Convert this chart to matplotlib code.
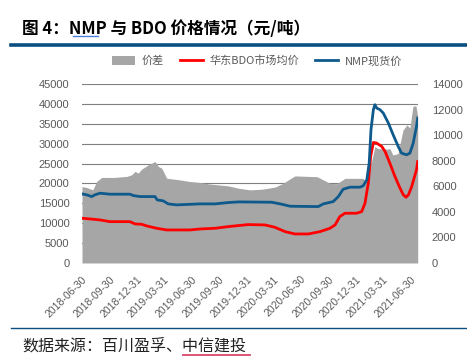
import matplotlib
matplotlib.use("Agg")
import matplotlib.pyplot as plt
import matplotlib.dates as mdates
import numpy as np
import pandas as pd
from matplotlib.lines import Line2D
from matplotlib.patches import Patch

plt.rcParams['font.family'] = ['Liberation Sans', 'Noto Sans CJK SC', 'DejaVu Sans']

# 价差 (right axis)
spread_dates = ['2018-06-30', '2018-07-16', '2018-08-05', '2018-08-18', '2018-09-04',
                '2018-10-13', '2018-11-26', '2018-12-13', '2018-12-24', '2019-01-04',
                '2019-01-15', '2019-02-07', '2019-03-01', '2019-03-12', '2019-03-23',
                '2019-04-09', '2019-05-23', '2019-06-26', '2019-07-29', '2019-08-26',
                '2019-11-01', '2019-12-04', '2020-01-12', '2020-02-20', '2020-04-04',
                '2020-05-02', '2020-05-19', '2020-06-10', '2020-08-23', '2020-10-05',
                '2020-10-28', '2020-11-24', '2021-01-23', '2021-02-06', '2021-02-22',
                '2021-03-04', '2021-03-14', '2021-04-13', '2021-04-23', '2021-05-03',
                '2021-05-20', '2021-06-06', '2021-06-19', '2021-06-29', '2021-07-09',
                '2021-07-19', '2021-07-25']
spread = [5980, 5900, 5720, 6380, 6690,
          6690, 6770, 6900, 7160, 7030,
          7340, 7680, 7940, 7550, 7420,
          6630, 6500, 6370, 6300, 6190,
          6030, 5850, 5720, 5770, 5930,
          6240, 6500, 6810, 6750, 6230,
          6200, 6620, 6620, 6300, 8060,
          9100, 8950, 8900, 8950, 8450,
          8550, 10400, 10800, 10550, 12250,
          12300, 11460]

# 华东BDO市场均价 (left axis)
bdo_dates = ['2018-06-30', '2018-08-07', '2018-08-29', '2018-10-01', '2018-12-07',
             '2018-12-24', '2019-01-15', '2019-02-01', '2019-03-06', '2019-04-09',
             '2019-06-26', '2019-07-29', '2019-09-17', '2019-11-01', '2020-01-06',
             '2020-03-02', '2020-04-04', '2020-05-08', '2020-06-10', '2020-07-25',
             '2020-09-02', '2020-10-05', '2020-10-22', '2020-11-07', '2020-11-24',
             '2021-01-02', '2021-01-19', '2021-01-30', '2021-02-10', '2021-02-18',
             '2021-02-27', '2021-03-10', '2021-03-27', '2021-04-07', '2021-04-23',
             '2021-05-10', '2021-05-27', '2021-06-07', '2021-06-16', '2021-06-24',
             '2021-07-05', '2021-07-21', '2021-07-25']
bdo = [11250, 11000, 10830, 10400, 10400,
       9820, 9740, 9320, 8730, 8310,
       8310, 8550, 8730, 9150, 9660,
       9570, 8980, 7890, 7300, 7300,
       7890, 8730, 9570, 11670, 12510,
       12510, 12930, 15030, 20070, 26780,
       30310, 30140, 29300, 28040, 25100,
       21750, 18800, 17130, 16540, 17130,
       19230, 23420, 25520]

# NMP现货价 (left axis)
nmp_dates = ['2018-06-30', '2018-07-16', '2018-08-01', '2018-08-12', '2018-08-29',
             '2018-10-01', '2018-12-07', '2018-12-18', '2019-01-10', '2019-03-01',
             '2019-03-08', '2019-03-28', '2019-04-14', '2019-05-12', '2019-07-29',
             '2019-09-17', '2019-11-01', '2019-12-04', '2020-03-24', '2020-04-27',
             '2020-05-25', '2020-08-16', '2020-08-27', '2020-09-13', '2020-10-16',
             '2020-11-02', '2020-11-18', '2020-12-11', '2021-01-13', '2021-01-24',
             '2021-02-05', '2021-02-13', '2021-02-19', '2021-02-27', '2021-03-04',
             '2021-03-10', '2021-03-21', '2021-04-01', '2021-04-18', '2021-05-04',
             '2021-05-21', '2021-06-01', '2021-06-18', '2021-06-29', '2021-07-10',
             '2021-07-21', '2021-07-25']
nmp = [17380, 17130, 16700, 17130, 17550,
       17300, 17300, 16960, 16700, 16700,
       15870, 15620, 14860, 14610, 14860,
       14860, 15200, 15360, 15280, 14780,
       14270, 14190, 14190, 14860, 15450,
       16700, 18550, 19060, 19060, 19400,
       20900, 25100, 33500, 38540, 39800,
       38960, 38540, 37700, 35180, 32240,
       29300, 27620, 27200, 27620, 30140,
       34340, 36440]

x_ticks = ['2018-06-30', '2018-09-30', '2018-12-31', '2019-03-31', '2019-06-30',
           '2019-09-30', '2019-12-31', '2020-03-31', '2020-06-30', '2020-09-30',
           '2020-12-31', '2021-03-31', '2021-06-30']

W, H = 467, 362
fig = plt.figure(figsize=(W / 100, H / 100), dpi=100)
rect = [82 / W, 1 - 263 / H, (418 - 82) / W, (263 - 84) / H]

tick_col = '#595959'
blue = '#0f5a8c'
red = '#ff0000'
gray = '#a6a6a6'

# left axis: grid + ticks
ax = fig.add_axes(rect)
ax.set_ylim(0, 45000)
ax.set_yticks(np.arange(0, 45001, 5000))
ax.grid(axis='y', color='#7f7f7f', linewidth=0.8)
ax.set_axisbelow(True)
for s in ax.spines.values():
    s.set_visible(False)
ax.tick_params(axis='y', length=0, labelsize=8, labelcolor=tick_col, pad=9)

# right axis: spread area
ax_r = ax.twinx()
ax_r.fill_between(pd.to_datetime(spread_dates), spread, 0, color=gray, linewidth=0)
ax_r.set_ylim(0, 14000)
ax_r.set_yticks(np.arange(0, 14001, 2000))
for s in ax_r.spines.values():
    s.set_visible(False)
ax_r.tick_params(axis='y', length=0, labelsize=8, labelcolor=tick_col, pad=10)

# top layer: price lines on left scale
ax_l = fig.add_axes(rect, sharex=ax, sharey=ax)
ax_l.plot(pd.to_datetime(bdo_dates), bdo, color=red, linewidth=2)
ax_l.plot(pd.to_datetime(nmp_dates), nmp, color=blue, linewidth=2)
ax_l.axis('off')

ax.set_xlim(pd.Timestamp('2018-06-30'), pd.Timestamp('2021-07-26'))
ax.set_xticks(pd.to_datetime(x_ticks))
ax.xaxis.set_major_formatter(mdates.DateFormatter('%Y-%m-%d'))
ax.tick_params(axis='x', length=0, labelsize=7.5, labelcolor=tick_col, pad=8)
for lab in ax.get_xticklabels():
    lab.set_rotation(45)
    lab.set_ha('right')
    lab.set_rotation_mode('anchor')

# legend
handles = [Patch(facecolor=gray, edgecolor='none'),
           Line2D([], [], color=red, linewidth=2),
           Line2D([], [], color=blue, linewidth=2)]
labels = ['价差', '华东BDO市场均价', 'NMP现货价']
fig.legend(handles, labels, loc='center', bbox_to_anchor=(257 / W, 1 - 61 / H), ncol=3,
           frameon=False, fontsize=8, handlelength=2.1, handleheight=0.9,
           columnspacing=1.4, handletextpad=0.6, labelcolor=tick_col,
           prop={'family': ['Noto Sans CJK SC'], 'size': 8})

# title and rules
fig.text(22 / W, 1 - 29 / H, '图 4：NMP 与 BDO 价格情况（元/吨）', fontsize=12,
         fontweight='bold', family=['Noto Sans CJK SC', 'DejaVu Sans'], va='center', ha='left')
fig.add_artist(Line2D([73 / W, 98 / W], [1 - 36 / H, 1 - 36 / H], color='#4a7fe0', linewidth=1))
fig.add_artist(Line2D([11 / W, 1], [1 - 45 / H, 1 - 45 / H], color='#0b4f82', linewidth=2.6))
fig.add_artist(Line2D([11 / W, 1], [1 - 328 / H, 1 - 328 / H], color='#0b4f82', linewidth=1))

fig.text(22 / W, 1 - 346 / H, '数据来源：百川盈孚、中信建投', fontsize=11.5, style='italic',
         family=['Noto Sans CJK SC', 'DejaVu Sans'], va='center', ha='left', color='#222222')
fig.add_artist(Line2D([183 / W, 250 / W], [1 - 355 / H, 1 - 355 / H], color='#d9466a', linewidth=1.3))

fig.savefig('out.png', dpi=100)
